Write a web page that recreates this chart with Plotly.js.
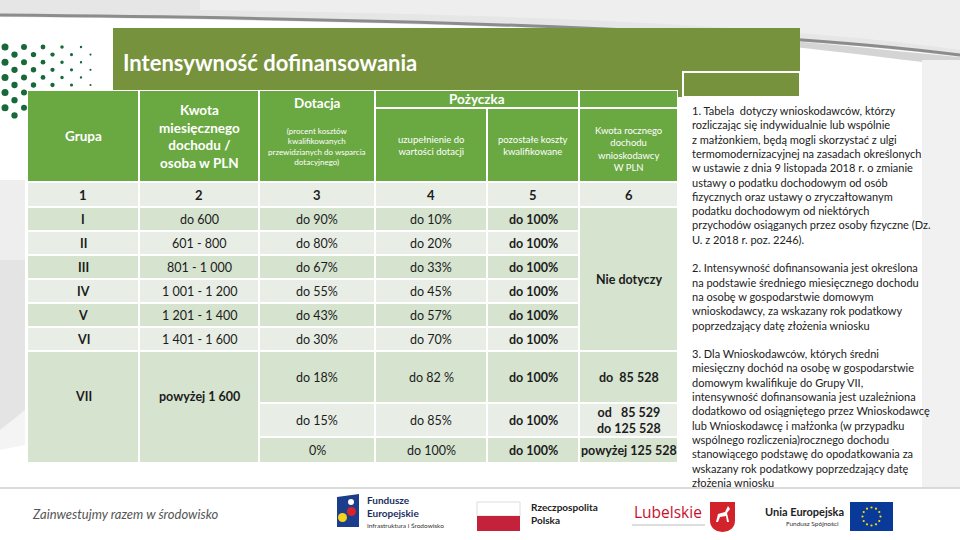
<!DOCTYPE html>
<html>
<head>
<meta charset="utf-8">
<script src="https://cdn.plot.ly/plotly-3.0.1.min.js"></script>
<style>
  body { margin: 0; background: #fff; }
  #slide { width: 960px; height: 540px; }
</style>
</head>
<body>
<div id="slide"></div>
<script>
// table content
var columnNumbers = ['1', '2', '3', '4', '5', '6'];
var groups = ['I', 'II', 'III', 'IV', 'V', 'VI', 'VII'];
var monthlyIncome = ['do 600', '601 - 800', '801 - 1 000', '1 001 - 1 200', '1 201 - 1 400', '1 401 - 1 600', 'powyżej 1 600'];
var dotacjaShare = ['do 90%', 'do 80%', 'do 67%', 'do 55%', 'do 43%', 'do 30%', 'do 18%', 'do 15%', '0%'];
var uzupelnienieShare = ['do 10%', 'do 20%', 'do 33%', 'do 45%', 'do 57%', 'do 70%', 'do 82 %', 'do 85%', 'do 100%'];
var pozostaleShare = ['do 100%', 'do 100%', 'do 100%', 'do 100%', 'do 100%', 'do 100%', 'do 100%', 'do 100%', 'do 100%'];
var annualIncome = ['Nie dotyczy', 'do \u00a085 528', 'od \u00a0 85 529<br>do 125 528', 'powyżej 125 528'];

var headGrupa = 'Grupa';
var headKwota = 'Kwota<br>miesięcznego<br>dochodu /<br>osoba w PLN';
var headDotacja = 'Dotacja';
var headDotacjaNote = '(procent kosztów<br>kwalifikowanych<br>przewidzianych do wsparcia<br>dotacyjnego)';
var headPozyczka = 'Pożyczka';
var headUzup = 'uzupełnienie do<br>wartości dotacji';
var headPozostale = 'pozostałe koszty<br>kwalifikowane';
var headRoczna = 'Kwota rocznego<br>dochodu<br>wnioskodawcy<br>W PLN';

var slideTitle = 'Intensywność dofinansowania';
var footerText = 'Zainwestujmy razem w środowisko';

var notes = [
  '1. Tabela  dotyczy wnioskodawców, którzy',
  'rozliczając się indywidualnie lub wspólnie',
  'z małżonkiem, będą mogli skorzystać z ulgi',
  'termomodernizacyjnej na zasadach określonych',
  'w ustawie z dnia 9 listopada 2018 r. o zmianie',
  'ustawy o podatku dochodowym od osób',
  'fizycznych oraz ustawy o zryczałtowanym',
  'podatku dochodowym od niektórych',
  'przychodów osiąganych przez osoby fizyczne (Dz.',
  'U. z 2018 r. poz. 2246).',
  '',
  '2. Intensywność dofinansowania jest określona',
  'na podstawie średniego miesięcznego dochodu',
  'na osobę w gospodarstwie domowym',
  'wnioskodawcy, za wskazany rok podatkowy',
  'poprzedzający datę złożenia wniosku',
  '',
  '3. Dla Wnioskodawców, których średni',
  'miesięczny dochód na osobę w gospodarstwie',
  'domowym kwalifikuje do Grupy VII,',
  'intensywność dofinansowania jest uzależniona',
  'dodatkowo od osiągniętego przez Wnioskodawcę',
  'lub Wnioskodawcę i małżonka (w przypadku',
  'wspólnego rozliczenia)rocznego dochodu',
  'stanowiącego podstawę do opodatkowania za',
  'wskazany rok podatkowy poprzedzający datę',
  'złożenia wniosku'
];

// colours and geometry
var olive = '#77923c';
var headGreen = '#6aa842';
var darkRow = '#d5e3cf';
var lightRow = '#e8eee5';
var ink = '#1c1c1c';
var FONT = 'Lato, "Open Sans", sans-serif';

var colW = [112, 120, 116, 112, 92, 99];
var xe = [0];
colW.forEach(function (w) { xe.push(xe[xe.length - 1] + w); });
var headH = 92, headSplit = 18, numH = 25, rowH = 24;
var subH = [52, 34, 26];
var rowTop = function (i) { return headH + numH + i * rowH; };
var viiTop = rowTop(6);
var subTop = [viiTop, viiTop + subH[0], viiTop + subH[0] + subH[1]];
var tableH = viiTop + subH[0] + subH[1] + subH[2];

var shapes = [];
var annotations = [];

// helpers for pixel (decoration) layer
function px(type, x0, y0, x1, y1, fill, line) {
  shapes.push({type: type, xref: 'x2', yref: 'y2', x0: x0, y0: y0, x1: x1, y1: y1,
    fillcolor: fill, line: line || {width: 0}});
}
function pxPath(path, fill, line) {
  shapes.push({type: 'path', xref: 'x2', yref: 'y2', path: path, fillcolor: fill, line: line || {width: 0}});
}
function pxText(x, y, text, size, opts) {
  opts = opts || {};
  annotations.push({xref: 'x2', yref: 'y2', x: x, y: y, text: text, showarrow: false,
    xanchor: opts.xanchor || 'left', yanchor: opts.yanchor || 'middle', align: opts.align || 'left',
    font: {family: opts.family || FONT, size: size, color: opts.color || ink,
      weight: opts.weight || 'normal', style: opts.style || 'normal'}});
}

// background swooshes
pxPath('M0,0 L960,0 L960,57 C800,36 480,21 0,17 Z', '#e6e6e6');
pxPath('M200,0 L960,0 L960,50 C820,30 560,14 200,10 Z', '#eeeeee');
pxPath('M0,15 C480,19 800,34 960,55', 'rgba(0,0,0,0)', {color: '#8c8c8c', width: 3});
pxPath('M700,34 C820,42 900,52 960,57 L960,66 C900,60 820,48 700,38 Z', '#d4d4d4');
px('rect', 0, 180, 25, 445, '#e4e4e4');
px('rect', 0, 180, 25, 260, '#eeeeee');
pxPath('M0,430 L25,410 L25,445 L0,450 Z', '#f4f4f4');
px('rect', 922, 60, 960, 488, '#f1f1f1');
px('line', 0, 488, 960, 488, null, {color: '#cfcfcf', width: 1.5});

// title bar
px('rect', 113, 28, 800, 97, olive);
px('rect', 683, 72, 800, 97, olive, {color: '#ffffff', width: 2});
pxText(121, 62, slideTitle, 22, {color: '#ffffff', weight: 'bold'});

// dotted pattern on the left
var dotSizes = [7, 6, 4.8, 3.5, 2.4];
for (var r = 0; r < 10; r++) {
  var yDot = 47 + r * 7.6;
  var off = (r % 2) ? 9.5 : 0;
  for (var k = 0; k < 5; k++) {
    var xDot = 5 + off + k * 19;
    var s = dotSizes[k] * (r % 2 ? 0.9 : 1);
    px('circle', xDot - s / 2, yDot - s / 2, xDot + s / 2, yDot + s / 2, '#17693a');
  }
}

// table cells (table axes)
function cell(c0, c1, y0, y1, fill) {
  shapes.push({type: 'rect', xref: 'x', yref: 'y', x0: xe[c0], x1: xe[c1], y0: y0, y1: y1,
    fillcolor: fill, line: {color: '#ffffff', width: 2}});
}
function cellText(c0, c1, y0, y1, text, size, bold, color) {
  annotations.push({xref: 'x', yref: 'y', x: (xe[c0] + xe[c1]) / 2, y: (y0 + y1) / 2,
    text: text, showarrow: false, xanchor: 'center', yanchor: 'middle', align: 'center',
    font: {family: FONT, size: size, color: color || ink, weight: bold ? 'bold' : 'normal'}});
}

// header
cell(0, 1, 0, headH, headGreen);
cell(1, 2, 0, headH, headGreen);
cell(2, 3, 0, headH, headGreen);
cell(3, 5, 0, headSplit, headGreen);
cell(3, 4, headSplit, headH, headGreen);
cell(4, 5, headSplit, headH, headGreen);
cell(5, 6, 0, headSplit, headGreen);
cell(5, 6, headSplit, headH, headGreen);
cellText(0, 1, 0, headH, headGrupa, 13.5, true, '#ffffff');
cellText(1, 2, 0, headH, headKwota, 13.5, true, '#ffffff');
cellText(2, 3, 0, 26, headDotacja, 13.5, true, '#ffffff');
cellText(2, 3, 34, 78, headDotacjaNote, 8, false, '#ffffff');
cellText(3, 5, 0, headSplit, headPozyczka, 13.5, true, '#ffffff');
cellText(3, 4, headSplit, headH, headUzup, 9.5, false, '#ffffff');
cellText(4, 5, headSplit, headH, headPozostale, 9.5, false, '#ffffff');
cellText(5, 6, headSplit, headH + 8, headRoczna, 9.5, false, '#ffffff');

// column numbers row
columnNumbers.forEach(function (n, c) {
  cell(c, c + 1, headH, headH + numH, lightRow);
  cellText(c, c + 1, headH, headH + numH, n, 13, true);
});

// groups I - VI
for (var i = 0; i < 6; i++) {
  var fill = i % 2 === 0 ? darkRow : lightRow;
  var y0 = rowTop(i), y1 = y0 + rowH;
  [groups[i], monthlyIncome[i], dotacjaShare[i], uzupelnienieShare[i], pozostaleShare[i]].forEach(function (v, c) {
    cell(c, c + 1, y0, y1, fill);
    cellText(c, c + 1, y0, y1, v, 12.5, c === 0 || c === 4);
  });
}
cell(5, 6, rowTop(0), rowTop(6), darkRow);
cellText(5, 6, rowTop(0), rowTop(6), annualIncome[0], 12.5, true);

// group VII with three income bands
cell(0, 1, viiTop, tableH, darkRow);
cell(1, 2, viiTop, tableH, darkRow);
cellText(0, 1, viiTop, viiTop + 90, groups[6], 12.5, true);
cellText(1, 2, viiTop, viiTop + 90, monthlyIncome[6], 12.5, true);
for (var j = 0; j < 3; j++) {
  var f = j === 1 ? lightRow : darkRow;
  var t0 = subTop[j], t1 = t0 + subH[j];
  [dotacjaShare[6 + j], uzupelnienieShare[6 + j], pozostaleShare[6 + j], annualIncome[1 + j]].forEach(function (v, k) {
    var c = k + 2;
    cell(c, c + 1, t0, t1, f);
    cellText(c, c + 1, t0, t1, v, 12.5, c >= 4);
  });
}

// notes panel
pxText(690, 102, notes.join('<br>'), 11, {yanchor: 'top', color: '#222222'});

// footer
pxText(30, 514, footerText, 13, {style: 'italic', color: '#555555'});

// Fundusze Europejskie mark
pxPath('M337,497 L359,494 L359,527 L337,527 Z', '#1b3d8c');
px('circle', 338, 513, 347, 522, '#f4d21f');
px('circle', 347, 507, 356, 516, '#d8232a');
px('circle', 348, 499, 354, 505, '#ffffff');
pxText(365, 506, 'Fundusze<br>Europejskie', 10, {weight: 'bold', color: '#1a2f5f'});
pxText(365, 525, 'Infrastruktura i Środowisko', 6.5, {color: '#333333'});

// Rzeczpospolita Polska
px('rect', 477, 502, 520, 516, '#ffffff', {color: '#dddddd', width: 1});
px('rect', 477, 516, 520, 531, '#c4213b');
pxText(529, 513, 'Rzeczpospolita<br>Polska', 10, {weight: 'bold', color: '#222222'});

// Lubelskie
pxText(668, 512, 'Lubelskie', 15.5, {xanchor: 'center', color: '#c8102e', family: '"Open Sans", sans-serif'});
px('line', 632, 525, 705, 525, null, {color: '#bbbbbb', width: 1});
pxPath('M710,502 L735,502 L735,520 Q735,531 722.5,532 Q710,531 710,520 Z', '#d2232a');
pxPath('M716,522 L718,514 L725,512 L728,506 L730,509 L727,513 L729,522 L727,522 L726,516 L720,517 L718,522 Z', '#ffffff');

// Unia Europejska
pxText(763, 511, 'Unia Europejska', 11, {weight: 'bold', color: '#222222'});
pxText(841, 523, 'Fundusz Spójności', 6.5, {xanchor: 'right', color: '#333333'});
px('rect', 850, 502, 893, 531, '#0a3a99');
for (var st = 0; st < 12; st++) {
  var a = st * Math.PI / 6;
  var sx = 871.5 + 9 * Math.cos(a), sy = 516.5 + 9 * Math.sin(a);
  px('circle', sx - 1.1, sy - 1.1, sx + 1.1, sy + 1.1, '#ffdd00');
}

var hidden = {visible: false, fixedrange: true, showgrid: false, zeroline: false};

var layout = {
  width: 960,
  height: 540,
  margin: {l: 0, r: 0, t: 0, b: 0},
  paper_bgcolor: '#ffffff',
  plot_bgcolor: 'rgba(0,0,0,0)',
  showlegend: false,
  xaxis: Object.assign({domain: [27 / 960, 678 / 960], range: [0, xe[6]], anchor: 'y'}, hidden),
  yaxis: Object.assign({domain: [1 - (90 + tableH) / 540, 1 - 90 / 540], range: [tableH, 0], anchor: 'x'}, hidden),
  xaxis2: Object.assign({domain: [0, 1], range: [0, 960], anchor: 'y2'}, hidden),
  yaxis2: Object.assign({domain: [0, 1], range: [540, 0], anchor: 'x2'}, hidden),
  shapes: shapes,
  annotations: annotations
};

var traces = [
  {x: [0], y: [0], xaxis: 'x', yaxis: 'y', mode: 'markers', marker: {opacity: 0}, hoverinfo: 'skip'},
  {x: [0], y: [0], xaxis: 'x2', yaxis: 'y2', mode: 'markers', marker: {opacity: 0}, hoverinfo: 'skip'}
];

Plotly.newPlot('slide', traces, layout, {staticPlot: true});
</script>
</body>
</html>
